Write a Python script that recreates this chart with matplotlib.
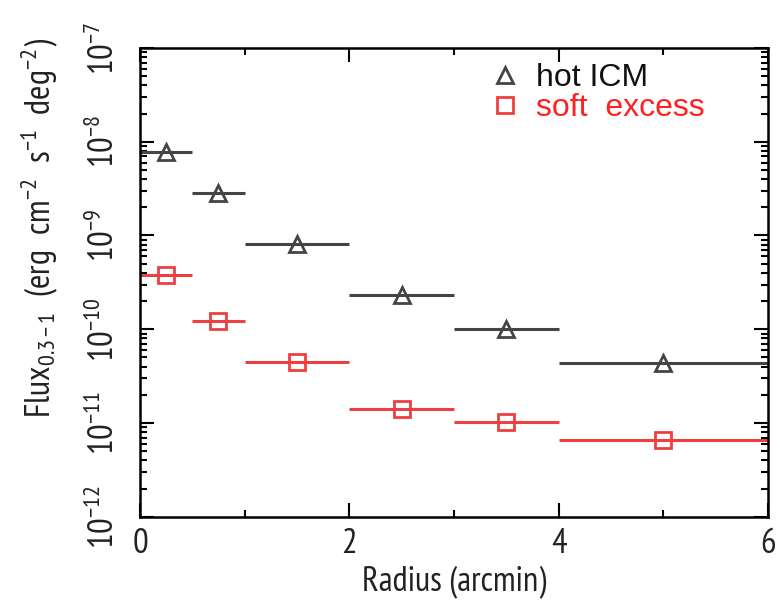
import matplotlib
matplotlib.use("Agg")
import matplotlib.pyplot as plt
from matplotlib import font_manager
from matplotlib.lines import Line2D
from matplotlib.ticker import (FixedLocator, LogLocator, LogFormatterMathtext,
                               MultipleLocator, NullFormatter)

# Narrow sans face for axis labels, first one that is installed
installed = {f.name for f in font_manager.fontManager.ttflist}
narrow = [n for n in ['Liberation Sans Narrow', 'Arial Narrow', 'PT Sans Narrow',
                      'Roboto Condensed', 'Archivo Narrow', 'Open Sans Condensed',
                      'Liberation Sans'] if n in installed]
face = narrow[0]
plt.rcParams['font.family'] = [face, 'DejaVu Sans']
plt.rcParams['mathtext.fontset'] = 'custom'
plt.rcParams['mathtext.rm'] = face
plt.rcParams['mathtext.it'] = face

# Annular bins (arcmin): centres and half-widths
radius = [0.25, 0.75, 1.5, 2.5, 3.5, 5.0]
radius_err = [0.25, 0.25, 0.5, 0.5, 0.5, 1.0]

# 0.3-1 keV surface brightness per bin
flux_hot = [7.8e-9, 2.85e-9, 8.1e-10, 2.3e-10, 1.0e-10, 4.4e-11]
flux_soft = [3.8e-10, 1.23e-10, 4.5e-11, 1.41e-11, 1.02e-11, 6.6e-12]

series_labels = ['hot ICM', 'soft  excess']
y_decades = [1e-12, 1e-11, 1e-10, 1e-9, 1e-8, 1e-7]

hot_color = '#444444'
soft_color = '#ee4040'
msize = 11

fig = plt.figure(figsize=(7.8, 6.04), dpi=100)
ax = fig.add_axes([0.1795, 0.1445, 0.805, 0.776])

ax.errorbar(radius, flux_hot, xerr=radius_err, fmt='^', color=hot_color,
            mfc='none', mec=hot_color, mew=2.0, ms=msize, elinewidth=2.2,
            capsize=0, clip_on=False)
ax.errorbar(radius, flux_soft, xerr=radius_err, fmt='s', color=soft_color,
            mfc='none', mec=soft_color, mew=2.0, ms=msize, elinewidth=2.2,
            capsize=0, clip_on=False)

ax.set_yscale('log')
ax.set_xlim(0, 6)
ax.set_ylim(y_decades[0], y_decades[-1])

ax.xaxis.set_major_locator(MultipleLocator(2))
ax.xaxis.set_minor_locator(MultipleLocator(1))
ax.yaxis.set_major_locator(FixedLocator(y_decades))
ax.yaxis.set_minor_locator(LogLocator(base=10, subs=range(2, 10), numticks=20))
ax.yaxis.set_major_formatter(LogFormatterMathtext())
ax.yaxis.set_minor_formatter(NullFormatter())

ax.tick_params(which='both', direction='in', top=True, right=True, width=1.5,
               labelcolor='#222222')
ax.tick_params(which='major', length=10, labelsize=25)
ax.tick_params(which='minor', length=5)
ax.tick_params(axis='x', pad=8)
ax.tick_params(axis='y', labelrotation=90, pad=14)
for lbl in ax.get_yticklabels():
    lbl.set_va('center')

for side in ax.spines.values():
    side.set_linewidth(1.8)

ax.set_xlabel('Radius (arcmin)', fontsize=25, labelpad=4, color='#222222')
fig.text(0.05, 1 - 228 / 604,
         r'Flux$_{0.3-1}$  (erg  cm$^{-2}$  s$^{-1}$  deg$^{-2}$)',
         rotation=90, ha='center', va='center', fontsize=25, color='#222222')

handles = [
    Line2D([], [], marker='^', ls='none', mfc='none', mec=hot_color,
           mew=2.0, ms=msize, label=series_labels[0]),
    Line2D([], [], marker='s', ls='none', mfc='none', mec=soft_color,
           mew=2.0, ms=msize, label=series_labels[1]),
]
leg = ax.legend(handles=handles, loc='upper left',
                bbox_to_anchor=(489 / 780, 1 - 63 / 604),
                bbox_transform=fig.transFigure,
                frameon=False, handlelength=1.0, handletextpad=0.47,
                labelspacing=0.0, borderpad=0, borderaxespad=0,
                prop={'family': ['Liberation Sans', 'DejaVu Sans'], 'size': 23})
leg.get_texts()[0].set_color('#111111')
leg.get_texts()[1].set_color('#ff2020')

fig.savefig('out.png', dpi=100)
